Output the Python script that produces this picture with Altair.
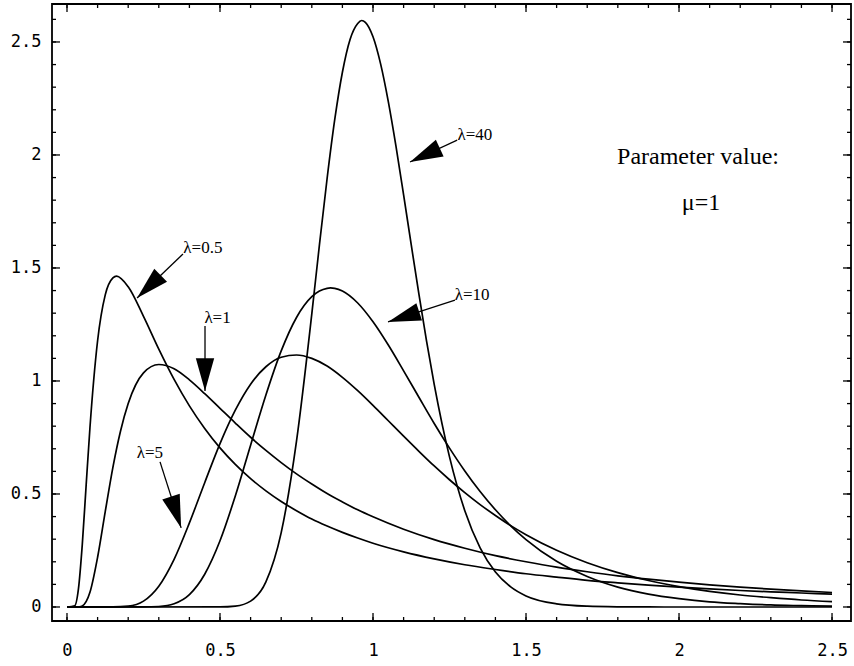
import altair as alt
import pandas as pd

# ---- curve values (inverse Gaussian densities, mu = 1) ----
x_l05 = [0, 0.025, 0.0375, 0.05, 0.0625, 0.075, 0.1, 0.125, 0.15, 0.162, 0.2, 0.25, 0.3, 0.35,
         0.4, 0.45, 0.5, 0.55, 0.6, 0.65, 0.7, 0.75, 0.8, 0.85, 0.9, 0.95, 1.0, 1.1, 1.2, 1.3,
         1.4, 1.5, 1.6, 1.7, 1.8, 1.9, 2.0, 2.1, 2.2, 2.3, 2.4, 2.5]
y_l05 = [0, 0.005, 0.081, 0.277, 0.537, 0.793, 1.178, 1.381, 1.456, 1.464, 1.417, 1.286, 1.141, 1.007,
         0.890, 0.790, 0.704, 0.631, 0.568, 0.514, 0.467, 0.426, 0.389, 0.358, 0.330, 0.305, 0.282, 0.244, 0.213, 0.187,
         0.166, 0.147, 0.132, 0.118, 0.107, 0.097, 0.088, 0.080, 0.073, 0.067, 0.062, 0.057]

x_l1 = [0, 0.04, 0.05, 0.075, 0.1, 0.125, 0.15, 0.175, 0.2, 0.25, 0.3, 0.35, 0.4, 0.45, 0.5,
        0.55, 0.6, 0.65, 0.7, 0.75, 0.8, 0.85, 0.9, 0.95, 1.0, 1.1, 1.2, 1.3, 1.4, 1.5,
        1.6, 1.7, 1.8, 1.9, 2.0, 2.1, 2.2, 2.3, 2.4, 2.5]
y_l1 = [0, 0.0005, 0.0043, 0.065, 0.220, 0.422, 0.618, 0.779, 0.900, 1.036, 1.073, 1.054, 1.005, 0.944, 0.879,
        0.814, 0.751, 0.693, 0.639, 0.589, 0.544, 0.502, 0.465, 0.430, 0.399, 0.344, 0.298, 0.260, 0.227, 0.200,
        0.176, 0.156, 0.138, 0.123, 0.110, 0.098, 0.088, 0.079, 0.071, 0.064]

x_l5 = [0, 0.15, 0.2, 0.25, 0.3, 0.35, 0.4, 0.45, 0.5, 0.55, 0.6, 0.65, 0.7, 0.75, 0.8,
        0.85, 0.9, 0.95, 1.0, 1.05, 1.1, 1.15, 1.2, 1.25, 1.3, 1.35, 1.4, 1.45, 1.5,
        1.6, 1.7, 1.8, 1.9, 2.0, 2.1, 2.2, 2.3, 2.4, 2.5]
y_l5 = [0, 0.0001, 0.0034, 0.026, 0.092, 0.211, 0.372, 0.550, 0.723, 0.871, 0.986, 1.063, 1.105, 1.115, 1.100,
        1.066, 1.016, 0.957, 0.892, 0.824, 0.756, 0.689, 0.624, 0.563, 0.506, 0.453, 0.405, 0.360, 0.320,
        0.251, 0.196, 0.152, 0.117, 0.090, 0.069, 0.053, 0.041, 0.031, 0.024]

x_l10 = [0, 0.25, 0.3, 0.35, 0.4, 0.45, 0.5, 0.55, 0.6, 0.65, 0.7, 0.75, 0.8, 0.825, 0.85, 0.861, 0.875, 0.9,
         0.95, 1.0, 1.05, 1.1, 1.15, 1.2, 1.25, 1.3, 1.35, 1.4, 1.45, 1.5,
         1.6, 1.7, 1.8, 1.9, 2.0, 2.1, 2.2, 2.3, 2.4, 2.5]
y_l10 = [0, 0.0001, 0.0022, 0.0146, 0.055, 0.145, 0.293, 0.491, 0.716, 0.938, 1.133, 1.281, 1.373, 1.398, 1.410, 1.412, 1.410, 1.398,
         1.345, 1.262, 1.159, 1.045, 0.928, 0.812, 0.703, 0.602, 0.511, 0.430, 0.359, 0.298,
         0.202, 0.135, 0.088, 0.057, 0.037, 0.023, 0.015, 0.009, 0.006, 0.0035]

x_l40 = [0, 0.5, 0.55, 0.6, 0.65, 0.7, 0.75, 0.8, 0.825, 0.85, 0.875, 0.9, 0.925, 0.95, 0.963, 0.975,
         1.0, 1.025, 1.05, 1.075, 1.1, 1.125, 1.15, 1.175, 1.2, 1.25, 1.3, 1.35, 1.4, 1.45, 1.5,
         1.6, 1.7, 1.8, 1.9, 2.0, 2.5]
y_l40 = [0, 0.0003, 0.004, 0.026, 0.111, 0.329, 0.734, 1.297, 1.603, 1.896, 2.157, 2.366, 2.511, 2.582, 2.595, 2.587,
         2.523, 2.402, 2.236, 2.039, 1.823, 1.602, 1.384, 1.176, 0.985, 0.664, 0.426, 0.262, 0.155, 0.089, 0.049,
         0.014, 0.0036, 0.0009, 0.0002, 0.0, 0.0]

series = [("λ=0.5", x_l05, y_l05), ("λ=1", x_l1, y_l1), ("λ=5", x_l5, y_l5),
          ("λ=10", x_l10, y_l10), ("λ=40", x_l40, y_l40)]

# ---- annotations ----
arrow_names = ["λ=0.5", "λ=1", "λ=5", "λ=40", "λ=10"]
label_x = [0.444, 0.492, 0.271, 1.333, 1.324]
label_y = [1.587, 1.279, 0.681, 2.088, 1.381]
arrow_x0 = [0.379, 0.451, 0.304, 1.275, 1.268]
arrow_y0 = [1.562, 1.243, 0.642, 2.066, 1.358]
tip_x = [0.229, 0.451, 0.373, 1.121, 1.049]
tip_y = [1.367, 0.956, 0.350, 1.969, 1.261]
tip_angle = [226, 180, 162, 245, 252]

note_text = ["Parameter value:", "μ=1"]
note_x = [2.062, 2.072]
note_y = [1.991, 1.788]

x_major = [0, 0.5, 1, 1.5, 2, 2.5]
y_major = [0, 0.5, 1, 1.5, 2, 2.5]
x_minor = [round(i * 0.1, 1) for i in range(26)]
y_minor = [round(i * 0.1, 1) for i in range(27)]

XDOM = [-0.049, 2.562]
YDOM = [-0.062, 2.668]
W, H = 799, 617

rows = []
for name, xs_, ys_ in series:
    assert len(xs_) == len(ys_)
    for xv, yv in zip(xs_, ys_):
        rows.append({"lam": name, "x": xv, "y": yv})
curves = pd.DataFrame(rows)

arrows = pd.DataFrame({"name": arrow_names, "lx": label_x, "ly": label_y,
                       "x0": arrow_x0, "y0": arrow_y0, "tx": tip_x, "ty": tip_y,
                       "ang": tip_angle})
notes = pd.DataFrame({"t": note_text, "x": note_x, "y": note_y})

xs = alt.Scale(domain=XDOM, nice=False, zero=False)
ys = alt.Scale(domain=YDOM, nice=False, zero=False)

XAX = alt.Axis(values=x_major, format="~g", title=None, grid=False,
               domain=False, ticks=False, labelPadding=21)
YAX = alt.Axis(values=y_major, format="~g", title=None, grid=False,
               domain=False, ticks=False, labelPadding=11)


def X(field):
    return alt.X(field, scale=xs, axis=XAX, title=None)


def Y(field):
    return alt.Y(field, scale=ys, axis=YAX, title=None)


lines = alt.Chart(curves).mark_line(color="black", strokeWidth=1.7, interpolate="monotone", clip=True).encode(
    x=X("x:Q"), y=Y("y:Q"), detail="lam:N", order=alt.Order("x:Q"))

# frame ticks (inward)
tx_major = pd.DataFrame({"v": x_major})
tx_minor = pd.DataFrame({"v": x_minor})
ty_major = pd.DataFrame({"v": y_major})
ty_minor = pd.DataFrame({"v": y_minor})


def xticks(df, length):
    bottom = alt.Chart(df).mark_rule(color="black", strokeWidth=1.3).encode(
        x=X("v:Q"), y=alt.value(H), y2=alt.value(H - length))
    top = alt.Chart(df).mark_rule(color="black", strokeWidth=1.3).encode(
        x=X("v:Q"), y=alt.value(0), y2=alt.value(length))
    return bottom + top


def yticks(df, length):
    left = alt.Chart(df).mark_rule(color="black", strokeWidth=1.3).encode(
        y=Y("v:Q"), x=alt.value(0), x2=alt.value(length))
    right = alt.Chart(df).mark_rule(color="black", strokeWidth=1.3).encode(
        y=Y("v:Q"), x=alt.value(W), x2=alt.value(W - length))
    return left + right


ticks = xticks(tx_major, 8) + xticks(tx_minor, 4) + yticks(ty_major, 8) + yticks(ty_minor, 4)

shafts = alt.Chart(arrows).mark_rule(color="black", strokeWidth=1.3).encode(
    x=X("x0:Q"), y=Y("y0:Q"), x2="tx:Q", y2="ty:Q")

heads = alt.Chart(arrows).mark_point(
    shape="M0,0L0.28,1L-0.28,1Z", filled=True, color="black", opacity=1, size=4300, strokeWidth=0).encode(
    x=X("tx:Q"), y=Y("ty:Q"), angle=alt.Angle("ang:Q", scale=None))

labels = alt.Chart(arrows).mark_text(font="Liberation Serif", fontSize=17, color="black").encode(
    x=X("lx:Q"), y=Y("ly:Q"), text="name:N")

note = alt.Chart(notes).mark_text(font="Liberation Serif", fontSize=24, color="black").encode(
    x=X("x:Q"), y=Y("y:Q"), text="t:N")

chart = alt.layer(lines, ticks, shafts, heads, labels, note).properties(
    width=W, height=H,
    padding={"left": 52, "top": 4, "right": 3, "bottom": 45},
    autosize="none",
    background="white",
).configure_view(stroke="black", strokeWidth=1.8).configure_axis(
    labelFont="DejaVu Sans Mono", labelFontSize=17, labelColor="black"
)

chart.save("out.html", embed_options={"renderer": "svg", "actions": False})
